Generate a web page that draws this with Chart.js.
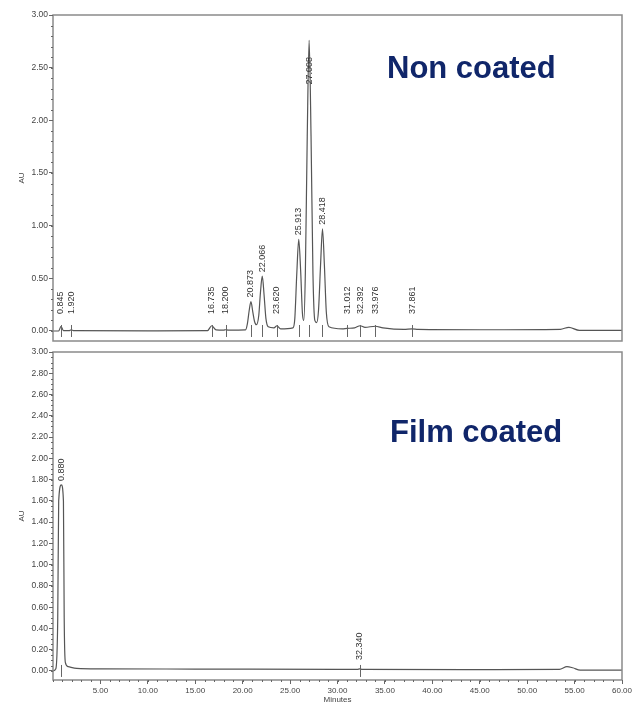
<!DOCTYPE html>
<html>
<head>
<meta charset="utf-8">
<script src="https://cdn.jsdelivr.net/npm/chart.js@4"></script>
<style>
  body { margin: 0; background: #fff; }
  #wrap { position: relative; width: 632px; height: 705px; }
  #topChart { position: absolute; left: 0; top: 0; }
  #bottomChart { position: absolute; left: 0; top: 345px; }
</style>
</head>
<body>
<div id="wrap">
  <canvas id="topChart" width="632" height="345"></canvas>
  <canvas id="bottomChart" width="632" height="360"></canvas>
</div>
<script>
"use strict"

// Non coated trace (minutes, AU)
const topTimes = [0, 0.6, 0.845, 1.1, 1.7, 1.92, 2.2, 10, 16.3, 16.735, 17.2, 18.0, 18.2, 18.5,
    20.3, 20.5, 20.68, 20.873, 21.07, 21.25, 21.45, 21.7, 21.87, 22.066, 22.26, 22.45, 22.7,
    23.3, 23.62, 24.0, 25.3, 25.5, 25.71, 25.913, 26.11, 26.3, 26.45, 26.61, 26.81, 27.008,
    27.21, 27.41, 27.61, 27.8, 28.0, 28.22, 28.418, 28.62, 28.82, 29.1, 30.5, 31.012, 31.8,
    32.392, 32.9, 33.976, 34.8, 37.0, 37.861, 38.5, 45, 53.5, 54.4, 55.5, 60];
const topAU = [0.0, 0.0, 0.045, 0.004, 0.003, 0.012, 0.003, 0.002, 0.004, 0.05, 0.01, 0.008, 0.012, 0.008,
    0.01, 0.07, 0.19, 0.28, 0.18, 0.09, 0.06, 0.15, 0.36, 0.52, 0.34, 0.12, 0.04,
    0.03, 0.05, 0.02, 0.03, 0.12, 0.55, 0.87, 0.58, 0.17, 0.1, 0.55, 1.85, 2.76,
    1.85, 0.55, 0.1, 0.08, 0.2, 0.64, 0.97, 0.62, 0.18, 0.04, 0.02, 0.025, 0.03,
    0.05, 0.035, 0.045, 0.03, 0.015, 0.02, 0.015, 0.012, 0.016, 0.035, 0.006, 0.006];
const topPeaks = [0.845, 1.92, 16.735, 18.2, 20.873, 22.066, 23.62, 25.913, 27.008, 28.418,
    31.012, 32.392, 33.976, 37.861];

// Film coated trace (minutes, AU)
const bottomTimes = [0, 0.3, 0.5, 0.6, 0.88, 1.1, 1.18, 1.3, 1.6, 2.5, 5, 15, 30, 32.1, 32.34, 32.6,
    45, 53.4, 54.2, 54.8, 55.6, 60];
const bottomAU = [0.0, 0.02, 0.5, 1.6, 1.75, 1.6, 0.5, 0.08, 0.04, 0.025, 0.02, 0.018, 0.015, 0.015, 0.02, 0.015,
    0.012, 0.014, 0.04, 0.03, 0.008, 0.008];
const bottomPeaks = [0.88, 32.34];

const topYTicks = [0, 0.5, 1.0, 1.5, 2.0, 2.5, 3.0];
const bottomYTicks = [0, 0.2, 0.4, 0.6, 0.8, 1.0, 1.2, 1.4, 1.6, 1.8, 2.0, 2.2, 2.4, 2.6, 2.8, 3.0];
const xTicks = [5, 10, 15, 20, 25, 30, 35, 40, 45, 50, 55, 60];

const gray = "#666666";

function toPoints(times, values) {
    return times.map((t, i) => ({ x: t, y: values[i] }));
}

// frame, minor ticks, peak labels and panel caption
const chromPlugin = {
    id: "chrom",
    afterDraw(chart, args, opts) {
        const ctx = chart.ctx;
        const a = chart.chartArea;
        const xs = chart.scales.x;
        const ys = chart.scales.y;
        ctx.save();

        ctx.strokeStyle = "#8a8a8a";
        ctx.lineWidth = 1.5;
        ctx.strokeRect(a.left, a.top, a.right - a.left, a.bottom - a.top);

        ctx.strokeStyle = gray;
        ctx.lineWidth = 1;
        ctx.beginPath();
        for (let v = 0; v <= ys.max + 1e-9; v += opts.yMinor) {
            const y = Math.round(ys.getPixelForValue(v)) + 0.5;
            ctx.moveTo(a.left - 2, y);
            ctx.lineTo(a.left, y);
        }
        if (opts.xMinor) {
            for (let v = 0; v <= xs.max + 1e-9; v += opts.xMinor) {
                const x = Math.round(xs.getPixelForValue(v)) + 0.5;
                ctx.moveTo(x, a.bottom);
                ctx.lineTo(x, a.bottom + 2);
            }
        }
        ctx.stroke();

        const data = chart.data.datasets[0].data;
        const basePx = ys.getPixelForValue(0);
        ctx.font = "9px Arial, 'Liberation Sans', sans-serif";
        ctx.fillStyle = "#333";
        ctx.textAlign = "left";
        ctx.textBaseline = "middle";
        opts.peaks.forEach(t => {
            const pt = data.find(p => Math.abs(p.x - t) < 1e-6);
            const px = xs.getPixelForValue(t);
            const apexPx = ys.getPixelForValue(pt ? pt.y : 0);
            const label = t.toFixed(3);
            const w = ctx.measureText(label).width;
            let bottom = Math.min(apexPx - 4, basePx - opts.gap);
            if (bottom - w < a.top + 35) bottom = a.top + 42 + w;
            ctx.save();
            ctx.translate(px, bottom);
            ctx.rotate(-Math.PI / 2);
            ctx.fillText(label, 0, 0);
            ctx.restore();
            ctx.beginPath();
            ctx.strokeStyle = gray;
            ctx.moveTo(Math.round(px) + 0.5, basePx - 6);
            ctx.lineTo(Math.round(px) + 0.5, basePx + 6);
            ctx.stroke();
        });

        ctx.font = "bold 31px Arial, 'Liberation Sans', sans-serif";
        ctx.fillStyle = "#10266a";
        ctx.textBaseline = "alphabetic";
        ctx.fillText(opts.caption, opts.captionX, opts.captionY);
        ctx.restore();
    }
};

function makeChart(id, times, values, yTicks, yMin, pad, xShown, pluginOpts) {
    return new Chart(document.querySelector(id), {
        type: "line",
        data: {
            datasets: [{
                data: toPoints(times, values),
                borderColor: "#555555",
                borderWidth: 1.2,
                pointRadius: 0,
                cubicInterpolationMode: "monotone",
                fill: false
            }]
        },
        options: {
            responsive: false,
            animation: false,
            events: [],
            layout: { padding: pad },
            plugins: {
                legend: { display: false },
                tooltip: { enabled: false },
                chrom: pluginOpts
            },
            scales: {
                x: {
                    type: "linear",
                    min: 0,
                    max: 60,
                    display: xShown,
                    afterBuildTicks: s => { s.ticks = xTicks.map(v => ({ value: v })); },
                    afterFit: s => {
                        s.height = xShown ? 25 : 0;
                        s.paddingLeft = 0;
                        s.paddingRight = 0;
                    },
                    grid: { drawOnChartArea: false, tickLength: 4, color: gray },
                    border: { display: false },
                    ticks: {
                        padding: 2,
                        maxRotation: 0,
                        autoSkip: false,
                        color: "#444",
                        font: { size: 8, family: "Arial, 'Liberation Sans', sans-serif" },
                        callback: v => v.toFixed(2)
                    },
                    title: {
                        display: true,
                        text: "Minutes",
                        color: "#444",
                        padding: 0,
                        font: { size: 8, family: "Arial, 'Liberation Sans', sans-serif" }
                    }
                },
                y: {
                    min: yMin,
                    max: 3,
                    afterBuildTicks: s => { s.ticks = yTicks.map(v => ({ value: v })); },
                    afterFit: s => {
                        s.width = 53;
                        s.paddingTop = 0;
                        s.paddingBottom = 0;
                    },
                    grid: { drawOnChartArea: false, tickLength: 4, color: gray },
                    border: { display: false },
                    ticks: {
                        padding: 1,
                        autoSkip: false,
                        color: "#444",
                        font: { size: 8.5, family: "Arial, 'Liberation Sans', sans-serif" },
                        callback: v => v.toFixed(2)
                    },
                    title: {
                        display: true,
                        text: "AU",
                        color: "#444",
                        padding: { top: 17, bottom: 0 },
                        font: { size: 8, family: "Arial, 'Liberation Sans', sans-serif" }
                    }
                }
            }
        },
        plugins: [chromPlugin]
    });
}

const topChart = makeChart("#topChart", topTimes, topAU, topYTicks, -0.095,
    { left: 0, right: 10, top: 15, bottom: 4 }, false,
    { peaks: topPeaks, gap: 17, yMinor: 0.1, xMinor: 0, caption: "Non coated", captionX: 387, captionY: 78 });

const bottomChart = makeChart("#bottomChart", bottomTimes, bottomAU, bottomYTicks, -0.085,
    { left: 0, right: 10, top: 7, bottom: 0 }, true,
    { peaks: bottomPeaks, gap: 11, yMinor: 0.05, xMinor: 1, caption: "Film coated", captionX: 390, captionY: 97 });
</script>
</body>
</html>
